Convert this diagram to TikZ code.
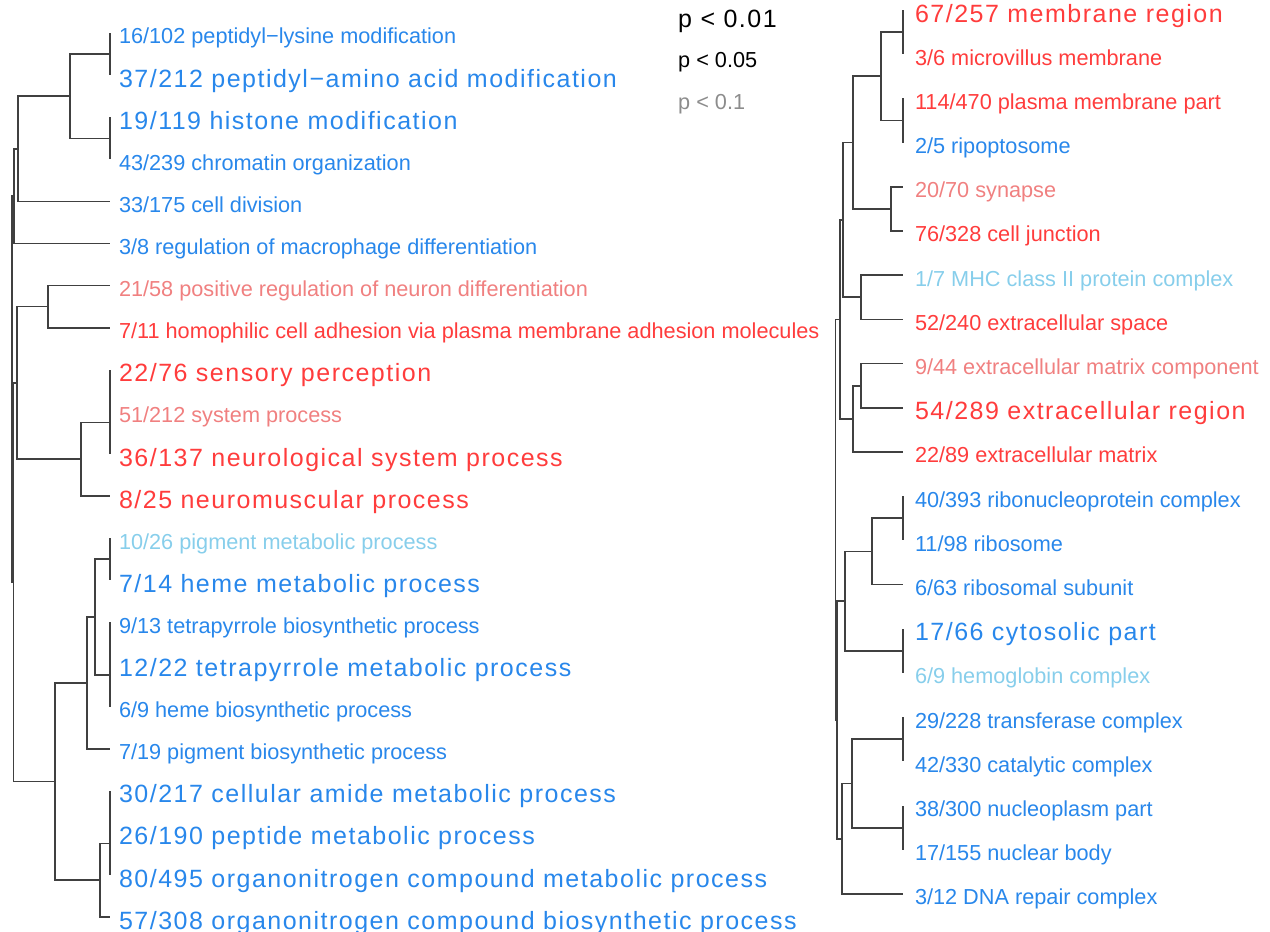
\documentclass[tikz,border=0pt]{standalone}
\usepackage{fontspec}
\setmainfont{Liberation Sans}
\usepackage{xcolor}
\usepackage{tikz}
\usetikzlibrary{arrows.meta,positioning,calc}
\definecolor{termblue}{RGB}{40,135,235}
\definecolor{termsky}{RGB}{135,206,235}
\definecolor{termred}{RGB}{255,60,60}
\definecolor{termrose}{RGB}{240,128,128}
\newcommand{\bigterm}{\fontsize{25}{28}\selectfont\addfontfeature{LetterSpace=6}}
\tikzset{
  branch/.style={draw=black!75,line width=1.7pt},
  termtext/.style={inner sep=0pt,outer sep=0pt,yshift=-3pt,
    font=\fontsize{21.7}{24}\selectfont,text height=15.6pt,text depth=0pt},
  termbig/.style={termtext,font=\bigterm,text height=18pt}
}

\begin{document}
\begin{tikzpicture}[
  x=1pt,
  y=-1pt,
  bmed/.style={termtext,text=termblue},
  bbig/.style={termbig,text=termblue},
  smed/.style={termtext,text=termsky},
  rmed/.style={termtext,text=termred},
  rbig/.style={termbig,text=termred},
  pmed/.style={termtext,text=termrose},
  keytext/.style={anchor=west,inner sep=0pt,text height=15.6pt,text depth=0pt,
    font=\fontsize{21.7}{24}\selectfont}
]
\useasboundingbox (0,0) rectangle (1270,932);

  % --------------------------------------------------------------
  % Tips of the two trees (one per term).
  % --------------------------------------------------------------
  \foreach \i in {1,...,22}
    {\coordinate (tL\i) at (110,{33+42.1*(\i-1)});}
  \foreach \i in {1,...,21}
    {\coordinate (tR\i) at (903,{10+44.2*(\i-1)});}


  % --------------------------------------------------------------
  % Merges of the left tree (biological process).
  % --------------------------------------------------------------
  \coordinate (n12)   at (110,54.05);
  \coordinate (n34)   at (110,138.35);
  \coordinate (nA)    at (70,96.2);
  \coordinate (nB)    at (18,148.8);
  \coordinate (nC)    at (14,196.1);
  \coordinate (n78)   at (48,306.6);
  \coordinate (n910)  at (110,390.8);
  \coordinate (n911)  at (110,422.4);
  \coordinate (n912)  at (81,459.2);
  \coordinate (nD)    at (17,382.9);
  \coordinate (n1314) at (110,559.2);
  \coordinate (n1516) at (110,643.4);
  \coordinate (n1517) at (110,675);
  \coordinate (n1317) at (95,617.1);
  \coordinate (nF)    at (87,682.9);
  \coordinate (n1920) at (110,811.8);
  \coordinate (n1921) at (110,843.4);
  \coordinate (nG)    at (100,880.2);
  \coordinate (nE)    at (55,781.6);
  \coordinate (nDE)   at (13.5,582.2);
  \coordinate (nRoot) at (12,389.2);


  % --------------------------------------------------------------
  % Merges of the right tree (cellular component).
  % --------------------------------------------------------------
  \coordinate (r12)   at (903,32.1);
  \coordinate (r34)   at (903,120.5);
  \coordinate (r14)   at (881,76.3);
  \coordinate (r56)   at (891,208.9);
  \coordinate (r16)   at (853,142.6);
  \coordinate (r78)   at (861,297.3);
  \coordinate (r18)   at (843,219.95);
  \coordinate (r910)  at (861,385.7);
  \coordinate (r911)  at (853,418.85);
  \coordinate (r111)  at (840,319.4);
  \coordinate (r1213) at (903,518.3);
  \coordinate (r1214) at (872,551.45);
  \coordinate (r1516) at (903,650.9);
  \coordinate (r1216) at (845,601.2);
  \coordinate (r1718) at (903,739.3);
  \coordinate (r1920) at (903,827.7);
  \coordinate (r1720) at (852,783.5);
  \coordinate (r1721) at (842,838.75);
  \coordinate (r1221) at (837,719.95);
  \coordinate (rRoot) at (835.5,519.7);


  % Left tree, upper block
  \draw[branch] (n12) |- (tL1);
  \draw[branch] (n12) |- (tL2);
  \draw[branch] (n34) |- (tL3);
  \draw[branch] (n34) |- (tL4);
  \draw[branch] (nA) |- (n12);
  \draw[branch] (nA) |- (n34);
  \draw[branch] (nB) |- (nA);
  \draw[branch] (nB) |- (tL5);
  \draw[branch] (nC) |- (nB);
  \draw[branch] (nC) |- (tL6);

  % Left tree, middle block
  \draw[branch] (n78) |- (tL7);
  \draw[branch] (n78) |- (tL8);
  \draw[branch] (n910) |- (tL9);
  \draw[branch] (n910) |- (tL10);
  \draw[branch] (n911) |- (n910);
  \draw[branch] (n911) |- (tL11);
  \draw[branch] (n912) |- (n911);
  \draw[branch] (n912) |- (tL12);
  \draw[branch] (nD) |- (n78);
  \draw[branch] (nD) |- (n912);

  % Left tree, lower block
  \draw[branch] (n1314) |- (tL13);
  \draw[branch] (n1314) |- (tL14);
  \draw[branch] (n1516) |- (tL15);
  \draw[branch] (n1516) |- (tL16);
  \draw[branch] (n1517) |- (n1516);
  \draw[branch] (n1517) |- (tL17);
  \draw[branch] (n1317) |- (n1314);
  \draw[branch] (n1317) |- (n1517);
  \draw[branch] (nF) |- (n1317);
  \draw[branch] (nF) |- (tL18);
  \draw[branch] (n1920) |- (tL19);
  \draw[branch] (n1920) |- (tL20);
  \draw[branch] (n1921) |- (n1920);
  \draw[branch] (n1921) |- (tL21);
  \draw[branch] (nG) |- (n1921);
  \draw[branch] (nG) |- (tL22);
  \draw[branch] (nE) |- (nF);
  \draw[branch] (nE) |- (nG);

  % Left tree, trunk
  \draw[branch] (nDE) |- (nD);
  \draw[branch] (nDE) |- (nE);
  \draw[branch] (nRoot) |- (nC);
  \draw[branch] (nRoot) |- (nDE);


  % Right tree, upper block
  \draw[branch] (r12) |- (tR1);
  \draw[branch] (r12) |- (tR2);
  \draw[branch] (r34) |- (tR3);
  \draw[branch] (r34) |- (tR4);
  \draw[branch] (r14) |- (r12);
  \draw[branch] (r14) |- (r34);
  \draw[branch] (r56) |- (tR5);
  \draw[branch] (r56) |- (tR6);
  \draw[branch] (r16) |- (r14);
  \draw[branch] (r16) |- (r56);
  \draw[branch] (r78) |- (tR7);
  \draw[branch] (r78) |- (tR8);
  \draw[branch] (r18) |- (r16);
  \draw[branch] (r18) |- (r78);
  \draw[branch] (r910) |- (tR9);
  \draw[branch] (r910) |- (tR10);
  \draw[branch] (r911) |- (r910);
  \draw[branch] (r911) |- (tR11);
  \draw[branch] (r111) |- (r18);
  \draw[branch] (r111) |- (r911);

  % Right tree, lower block
  \draw[branch] (r1213) |- (tR12);
  \draw[branch] (r1213) |- (tR13);
  \draw[branch] (r1214) |- (r1213);
  \draw[branch] (r1214) |- (tR14);
  \draw[branch] (r1516) |- (tR15);
  \draw[branch] (r1516) |- (tR16);
  \draw[branch] (r1216) |- (r1214);
  \draw[branch] (r1216) |- (r1516);
  \draw[branch] (r1718) |- (tR17);
  \draw[branch] (r1718) |- (tR18);
  \draw[branch] (r1920) |- (tR19);
  \draw[branch] (r1920) |- (tR20);
  \draw[branch] (r1720) |- (r1718);
  \draw[branch] (r1720) |- (r1920);
  \draw[branch] (r1721) |- (r1720);
  \draw[branch] (r1721) |- (tR21);
  \draw[branch] (r1221) |- (r1216);
  \draw[branch] (r1221) |- (r1721);

  % Right tree, trunk
  \draw[branch] (rRoot) |- (r111);
  \draw[branch] (rRoot) |- (r1221);


  % --------------------------------------------------------------
  % Term labels: style / hits / size / name.
  % --------------------------------------------------------------
\foreach \i/\st/\k/\n/\txt in {
  1/bmed/16/102/peptidyl−lysine modification,
  2/bbig/37/212/peptidyl−amino acid modification,
  3/bbig/19/119/histone modification,
  4/bmed/43/239/chromatin organization,
  5/bmed/33/175/cell division,
  6/bmed/3/8/regulation of macrophage differentiation,
  7/pmed/21/58/positive regulation of neuron differentiation,
  8/rmed/7/11/homophilic cell adhesion via plasma membrane adhesion molecules,
  9/rbig/22/76/sensory perception,
  10/pmed/51/212/system process,
  11/rbig/36/137/neurological system process,
  12/rbig/8/25/neuromuscular process,
  13/smed/10/26/pigment metabolic process,
  14/bbig/7/14/heme metabolic process,
  15/bmed/9/13/tetrapyrrole biosynthetic process,
  16/bbig/12/22/tetrapyrrole metabolic process,
  17/bmed/6/9/heme biosynthetic process,
  18/bmed/7/19/pigment biosynthetic process,
  19/bbig/30/217/cellular amide metabolic process,
  20/bbig/26/190/peptide metabolic process,
  21/bbig/80/495/organonitrogen compound metabolic process,
  22/bbig/57/308/organonitrogen compound biosynthetic process}
  {\node[\st, right=9pt of tL\i] (lL\i) {\k/\n\ \txt};}

\foreach \i/\st/\k/\n/\txt in {
  1/rbig/67/257/membrane region,
  2/rmed/3/6/microvillus membrane,
  3/rmed/114/470/plasma membrane part,
  4/bmed/2/5/ripoptosome,
  5/pmed/20/70/synapse,
  6/rmed/76/328/cell junction,
  7/smed/1/7/MHC class II protein complex,
  8/rmed/52/240/extracellular space,
  9/pmed/9/44/extracellular matrix component,
  10/rbig/54/289/extracellular region,
  11/rmed/22/89/extracellular matrix,
  12/bmed/40/393/ribonucleoprotein complex,
  13/bmed/11/98/ribosome,
  14/bmed/6/63/ribosomal subunit,
  15/bbig/17/66/cytosolic part,
  16/smed/6/9/hemoglobin complex,
  17/bmed/29/228/transferase complex,
  18/bmed/42/330/catalytic complex,
  19/bmed/38/300/nucleoplasm part,
  20/bmed/17/155/nuclear body,
  21/bmed/3/12/DNA repair complex}
  {\node[\st, right=12pt of tR\i] (lR\i) {\k/\n\ \txt};}

  % Key for the text sizes
  \node[keytext,font=\bigterm,text height=18pt] (keyA) at (678,18) {p < 0.01};
  \node[keytext] (keyB) at (678,60) {p < 0.05};
  \node[keytext,text=black!45] (keyC) at (678,102) {p < 0.1};

\end{tikzpicture}
\end{document}
